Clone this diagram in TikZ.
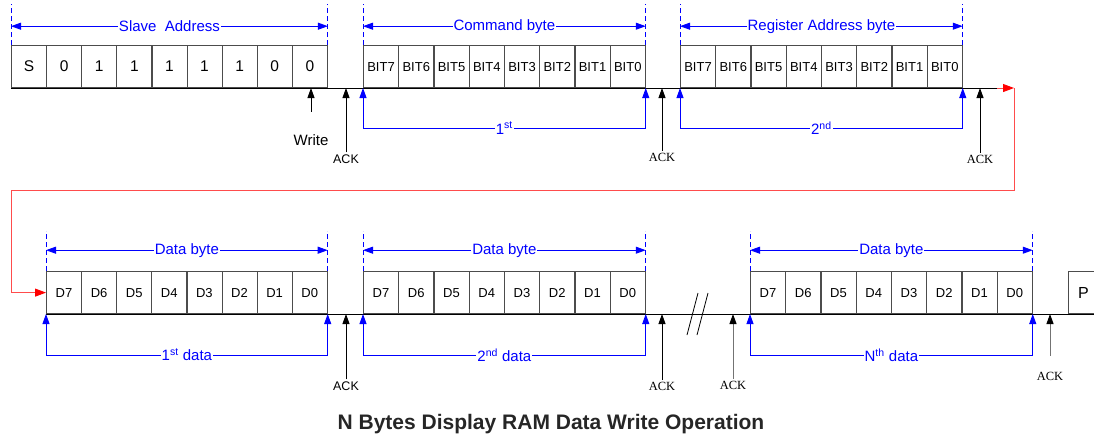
\documentclass[tikz,border=0pt]{standalone}
\usepackage{fontspec}
\setmainfont{Liberation Sans}
\newfontfamily\ackfont{Liberation Serif}
\usetikzlibrary{arrows.meta}

\begin{document}
\begin{tikzpicture}[x=1pt,y=-1pt]
                \tikzstyle{cell} = [draw=black!70, line width=0.8pt, minimum width=35.2pt, minimum height=42pt, inner sep=0pt, anchor=south west, font=\fontsize{13}{15}\selectfont]
                \tikzstyle{bus} = [line width=1pt]
                \tikzstyle{guide} = [blue, line width=0.8pt, dash pattern=on 5pt off 3pt]
                \tikzstyle{span} = [blue, line width=0.9pt, {Triangle[length=10pt,width=7pt]}-{Triangle[length=10pt,width=7pt]}]
                \tikzstyle{tag} = [fill=white, inner sep=1pt, text=blue, font=\fontsize{15}{17}\selectfont]
                \tikzstyle{ack} = [line width=0.9pt, -{Triangle[length=10pt,width=7pt]}]
                \tikzstyle{ackgray} = [line width=1pt, draw=black!55, -{Triangle[length=10pt,width=7pt,black]}]
                \tikzstyle{acklabel} = [inner sep=2pt, font=\ackfont\fontsize{12.5}{14}\selectfont]
                \tikzstyle{link} = [red!70, line width=0.9pt, -{Triangle[length=11pt,width=8pt,red]}]
                \useasboundingbox (0,0) rectangle (1094,440);
                % first line
                \foreach \t [count=\i from 0] in {S,0,1,1,1,1,1,0,0}
                    \node[cell, font=\fontsize{15.5}{17}\selectfont] (sa\i) at ({11+35.11*\i},88) {\t};
                \foreach \b [count=\i from 0] in {7,...,0}
                    \node[cell] (cb\i) at ({363+35.25*\i},88) {BIT\b};
                \foreach \b [count=\i from 0] in {7,...,0}
                    \node[cell] (ra\i) at ({680+35.25*\i},88) {BIT\b};
                \coordinate (topend) at (997,88);
                \coordinate (turn) at (1014,88);
                \coordinate (bend) at (11,190);
                \draw[bus] (sa0.south west) -- (topend);
                \draw[guide] (sa0.north west) -- ++(0,-41);
                \draw[guide] (sa8.north east) -- ++(0,-41);
                \draw[span] ([yshift=19pt]sa0.north west) -- node[tag] {Slave\ \ Address} ([yshift=19pt]sa8.north east);
                \draw[guide] (cb0.north west) -- ++(0,-41);
                \draw[guide] (cb7.north east) -- ++(0,-41);
                \draw[span] ([yshift=19pt]cb0.north west) -- node[tag] {Command byte} ([yshift=19pt]cb7.north east);
                \draw[guide] (ra0.north west) -- ++(0,-41);
                \draw[guide] (ra7.north east) -- ++(0,-41);
                \draw[span] ([yshift=19pt]ra0.north west) -- node[tag] {Register Address byte} ([yshift=19pt]ra7.north east);
                \draw[span] (cb0.south west) -- ++(0,40) -| node[tag, pos=.25] {1\textsuperscript{st}} (cb7.south east);
                \draw[span] (ra0.south west) -- ++(0,40) -| node[tag, pos=.25] {2\textsuperscript{nd}} (ra7.south east);
                \node[font=\fontsize{15}{17}\selectfont] (write) at (311,140) {Write};
                \draw[ack] ([yshift=19pt]write.north) -- (write.north |- sa8.south);
                \node[acklabel, font=\fontsize{12.5}{14}\selectfont] (ack1) at (346,159) {ACK};
                \draw[ack] (ack1.north) -- (ack1.north |- sa8.south);
                \node[acklabel] (ack2) at (662,157) {ACK};
                \draw[ack] (ack2.north) -- (ack2.north |- cb7.south);
                \node[acklabel] (ack3) at (980,159) {ACK};
                \draw[ack] (ack3.north) -- (ack3.north |- ra7.south);
                % second line
                \foreach \b [count=\i from 0] in {7,...,0}
                    \node[cell] (da\i) at ({46+35.1*\i},314) {D\b};
                \foreach \b [count=\i from 0] in {7,...,0}
                    \node[cell] (db\i) at ({363+35.25*\i},314) {D\b};
                \foreach \b [count=\i from 0] in {7,...,0}
                    \node[cell] (dn\i) at ({750+35.25*\i},314) {D\b};
                \node[cell, minimum width=30pt, font=\fontsize{16}{18}\selectfont] (stop) at (1068,314) {P};
                \coordinate (botend) at (1094,314);
                \draw[link] (topend) -- (turn);
                \draw[link] (turn) |- (bend) |- (da0.west);
                \draw[bus] (da0.south west) -- (botend);
                \draw[line width=0.8pt] (687,335) -- (698,293) (697,335) -- (708,293);
                \foreach \n/\k in {da/{1\textsuperscript{st} data}, db/{2\textsuperscript{nd} data}, dn/{N\textsuperscript{th} data}} {
                    \draw[guide] (\n0.north west) -- ++(0,-40);
                    \draw[guide] (\n7.north east) -- ++(0,-40);
                    \draw[span] ([yshift=21pt]\n0.north west) -- node[tag] {Data byte} ([yshift=21pt]\n7.north east);
                    \draw[span] (\n0.south west) -- ++(0,41) -| node[tag, pos=.25] {\k} (\n7.south east);
                }
                \node[acklabel, font=\fontsize{12.5}{14}\selectfont] (ack4) at (346,386) {ACK};
                \draw[ack] (ack4.north) -- (ack4.north |- da7.south);
                \node[acklabel] (ack5) at (662,386) {ACK};
                \draw[ack] (ack5.north) -- (ack5.north |- db7.south);
                \node[acklabel] (ack6) at (733,385) {ACK};
                \draw[ackgray] (ack6.north) -- (ack6.north |- dn0.south);
                \node[acklabel] (ack7) at (1050,376) {ACK};
                \draw[ackgray] ([yshift=14pt]ack7.north) -- (ack7.north |- stop.south);
                \node[font=\bfseries\fontsize{21}{24}\selectfont, text=black!85] (title) at (551,424) {N Bytes Display RAM Data Write Operation};
            \end{tikzpicture}
\end{document}
